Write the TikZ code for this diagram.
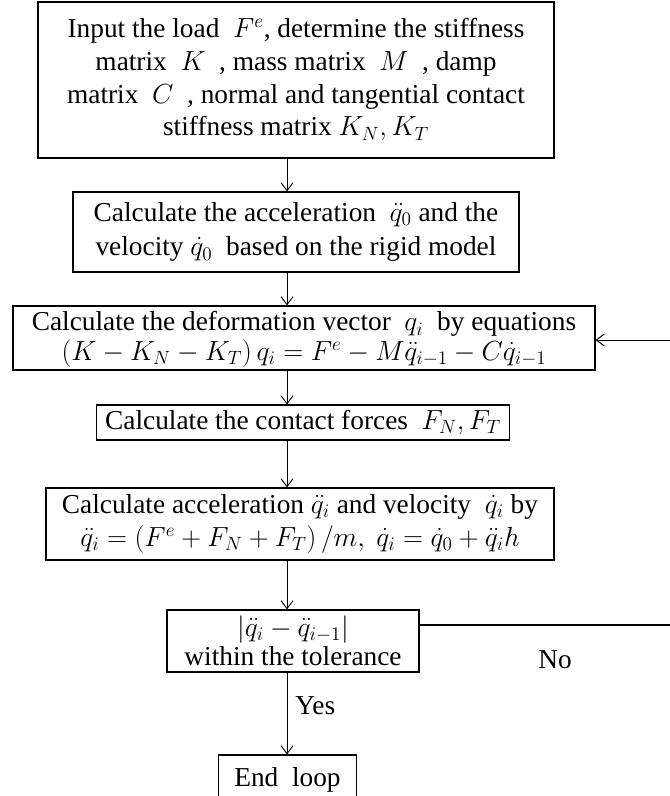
\documentclass[tikz,border=0pt]{standalone}
\usepackage{fontspec}
\setmainfont{Liberation Serif}
\usetikzlibrary{arrows.meta,calc}
\begin{document}
\begin{tikzpicture}[x=0.75pt,y=-0.75pt,
  box/.style={draw,line width=0.8pt,align=center,inner sep=0pt,
    font=\fontsize{20.5}{24.5}\selectfont},
  arr/.style={line width=0.7pt,-{Straight Barb[length=6pt,width=9pt,line width=0.7pt]}},
  ln/.style={line width=0.8pt},
  lbl/.style={font=\fontsize{20.5}{24}\selectfont,inner sep=0pt}]
\useasboundingbox (0,0) rectangle (670,796);
\coordinate (ax) at (287,0);
\node[box,minimum width=387pt,minimum height=117pt] (b1) at (296,80)
  {Input the load \ $F^{e}$, determine the stiffness\\
   matrix \ $K$\ \ , mass matrix \ $M$\ \ , damp\\
   matrix \ $C$\ \ , normal and tangential contact\\
   stiffness matrix $K_{N}, K_{T}$};
\node[box,minimum width=334.5pt,minimum height=60pt,font=\fontsize{20.5}{26}\selectfont] (b2) at (296,232)
  {Calculate the acceleration \ $\ddot{q}_{0}$ and the\\
   velocity $\dot{q}_{0}$ \ based on the rigid model};
\node[box,minimum width=436.5pt,minimum height=48pt,font=\fontsize{20.5}{22}\selectfont,text depth=3pt] (b3) at (304,338)
  {Calculate the deformation vector \ $q_{i}$ \ by equations\\
   $\left(K-K_{N}-K_{T}\right)q_{i}=F^{e}-M\ddot{q}_{i-1}-C\dot{q}_{i-1}$};
\node[box,minimum width=310pt,minimum height=26.25pt] (b4) at (303,422.5)
  {Calculate the contact forces \ $F_{N}, F_{T}$};
\node[box,minimum width=381pt,minimum height=54pt,font=\fontsize{20.5}{25}\selectfont] (b5) at (300,524)
  {Calculate acceleration $\ddot{q}_{i}$ and velocity \ $\dot{q}_{i}$ by\\
   $\ddot{q}_{i}=\left(F^{e}+F_{N}+F_{T}\right)\big/m,\ \dot{q}_{i}=\dot{q}_{0}+\ddot{q}_{i}h$};
\node[box,minimum width=189pt,minimum height=46.5pt,font=\fontsize{20.5}{22}\selectfont] (b6) at (293,641)
  {$\left|\ddot{q}_{i}-\ddot{q}_{i-1}\right|$\\ within the tolerance};
\node[box,minimum width=103pt,minimum height=37.5pt] (b7) at (287.5,780)
  {End\ \ loop};
\coordinate (fbr) at (672,625);
\coordinate (fbt) at (672,340);
\draw[arr] (b1.south -| ax) -- (b2.north -| ax);
\draw[arr] (b2.south -| ax) -- (b3.north -| ax);
\draw[arr] (b3.south -| ax) -- (b4.north -| ax);
\draw[arr] (b4.south -| ax) -- (b5.north -| ax);
\draw[arr] (b5.south -| ax) -- (b6.north -| ax);
\draw[arr] (b6.south -| ax) -- node[lbl,right=6pt,pos=0.4] (yes) {Yes} (b7.north -| ax);
\draw[ln] (b6.east |- fbr) -- (fbr);
\draw[arr] (fbr) -- (fbt) -- (b3.east |- fbt);
\node[lbl] (no) at (555,660) {No};
\end{tikzpicture}
\end{document}
